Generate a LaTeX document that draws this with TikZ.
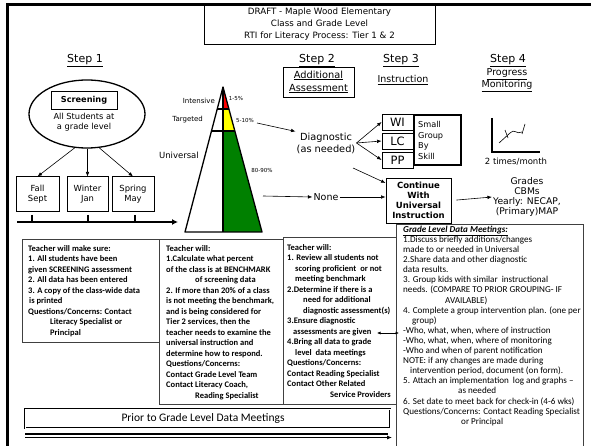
\documentclass[tikz,border=0pt]{standalone}
\usepackage{fontspec}
\setmainfont{DejaVu Sans}
\newfontfamily\calib{Carlito}
\usetikzlibrary{shapes.geometric,arrows.meta}
\newcommand\fs[2]{\fontsize{#1}{#2}\selectfont}
\definecolor{tierred}{RGB}{255,0,0}
\definecolor{tieryellow}{RGB}{255,255,0}
\definecolor{tiergreen}{RGB}{0,128,0}
\begin{document}
\begin{tikzpicture}[x=1pt,y=-1pt,
  arr/.style={-{Latex[length=4.5pt,width=3.6pt]}, line width=0.6pt},
  boxed/.style={draw, line width=0.9pt, inner sep=0},
  note/.style={draw=black!75, line width=0.6pt, fill=white, inner sep=0, anchor=north west},
  txtb/.style={font=\calib\bfseries\fs{8.5}{10.5}, align=left, inner sep=0, anchor=north west},
  txtr/.style={font=\calib\fs{9.1}{10.1}, align=left, inner sep=0, anchor=north west},
  steplabel/.style={font=\fs{11}{13}, inner sep=1pt}]
\useasboundingbox (0,0) rectangle (591,446);

% outer frame, running off the page to the right and bottom
\draw[line width=3pt] (7,452) -- (7,5) -- (597,5);

% heading
\node[boxed, minimum width=231, minimum height=40, align=center, font=\fs{8.7}{12}] (title) at (319.5,24.5)
  {DRAFT - Maple Wood Elementary\\Class and Grade Level\\RTI for Literacy Process: Tier 1 \& 2};

% step headings
\node[steplabel] (s1) at (85,61) {\underline{Step 1}};
\node[steplabel] (s2) at (317,61) {\underline{Step 2}};
\node[steplabel] (s3) at (401,61) {\underline{Step 3}};
\node[steplabel] (s4) at (508,61) {\underline{Step 4}};
\node[boxed, minimum width=71, minimum height=30, align=center, font=\fs{9.8}{13}] (s2box) at (318.5,82)
  {\underline{Additional}\\\underline{Assessment}};
\node[font=\fs{9.5}{12}] (s3t) at (403,80) {\underline{Instruction}};
\node[font=\fs{9.5}{12}, align=center] (s4t) at (507,80) {\underline{Progress}\\\underline{Monitoring}};

% step 1: screening
\node[ellipse, draw, line width=1.3pt, minimum width=116, minimum height=68, inner sep=0] (scr) at (87,114) {};
\node[draw, line width=0.6pt, minimum width=66, minimum height=18, inner sep=0, font=\bfseries\fs{8.2}{10}] (scrbox) at (84,100) {Screening};
\node[font=\fs{8.3}{10}, align=center, inner sep=0] (scrtxt) at (84,122) {All Students at\\a grade level};

\node[boxed, line width=1pt, minimum width=43, minimum height=35, align=center, font=\fs{8.4}{10}] (fall) at (37.5,194.5) {Fall\\Sept};
\node[boxed, line width=1pt, minimum width=41, minimum height=35, align=center, font=\fs{8.4}{10}] (winter) at (87.5,194.5) {Winter\\Jan};
\node[boxed, line width=1pt, minimum width=42, minimum height=35, align=center, font=\fs{8.4}{10}] (spring) at (133,194.5) {Spring\\May};

\draw[arr] (scr.250) -- (fall.north);
\draw[arr] (winter.north |- scr.south) -- (winter.north);
\draw[arr] (scr.290) -- (spring.north);

% time line with ticks
\coordinate (tl0) at (17,222);
\coordinate (tl1) at (178,222);
\draw[line width=2pt, -{Latex[length=6pt,width=6pt]}] (tl0) -- (tl1);
\foreach \tx in {32,88,135} \draw[line width=2pt] (\tx,215) -- (\tx,222);

% tier pyramid
\fill[tierred] (223,87) -- (228.9,109) -- (223,109) -- cycle;
\fill[tieryellow] (223,109) -- (228.9,109) -- (234.8,131) -- (223,131) -- cycle;
\fill[tiergreen] (223,131) -- (234.8,131) -- (262,232) -- (223,232) -- cycle;
\draw[line width=1.3pt, line join=round] (223,87) -- (262,232) -- (185,232) -- cycle;
\draw[line width=1.3pt] (223,87) -- (223,232);
\draw[line width=1.3pt] (217.2,109) -- (228.9,109);
\draw[line width=1.3pt] (211.5,131) -- (234.8,131);
\node[font=\fs{7}{8}, anchor=east, inner sep=0] (lint) at (215,101) {Intensive};
\node[font=\fs{7}{8}, anchor=east, inner sep=0] (ltar) at (203,120) {Targeted};
\node[font=\fs{8.5}{10}, anchor=east, inner sep=0] (luni) at (199,155) {Universal};
\node[font=\fs{5.5}{6}, inner sep=0] (p1) at (236,99) {1-5\%};
\node[font=\fs{5.5}{6}, inner sep=0] (p2) at (245,121) {5-10\%};
\node[font=\fs{5.5}{6}, inner sep=0] (p3) at (262,170) {80-90\%};

% step 2 outcomes
\node[align=center, font=\fs{9.8}{12}, inner sep=1pt] (diag) at (326,143) {Diagnostic\\(as needed)};
\node[font=\fs{9.5}{12}, inner sep=1pt] (none) at (326,197) {None};
\coordinate (py1) at (257,123);
\coordinate (py2) at (263,196);
\draw[arr] (py1) -- (diag.north west);
\draw[arr] (py2) -- (none.west);

% step 3: instruction
\node[boxed, minimum width=31, minimum height=16, font=\fs{11.5}{12}] (wi) at (397.5,122) {WI};
\node[boxed, minimum width=31, minimum height=16, font=\fs{11.5}{12}] (lc) at (397.5,141) {LC};
\node[boxed, minimum width=31, minimum height=16, font=\fs{11.5}{12}] (pp) at (397.5,160) {PP};
\node[draw, line width=1.6pt, minimum width=47, minimum height=50, inner sep=0] (sg) at (437.5,140) {};
\node[font=\fs{8.2}{10.7}, align=left, inner sep=0, anchor=north west] (sgt) at (418,121) {Small\\Group\\By\\Skill};
\draw[arr] (diag.east) -- (wi.west);
\draw[arr] (diag.east) -- (lc.west);
\draw[arr] (diag.east) -- (pp.west);

\node[boxed, minimum width=65, minimum height=45, align=center, font=\bfseries\fs{8.5}{9.8}] (cont) at (418.5,200.5)
  {Continue\\With\\Universal\\Instruction};
\coordinate (dg2) at (353,168);
\draw[arr] (dg2) -- (cont.152);
\draw[arr] (none.east) -- (none.east -| cont.west);

% step 4: progress monitoring
\draw[line width=2.2pt] (492,118) -- (492,152) -- (540,152);
\draw[line width=0.6pt] (499,143) -- (510,133);
\draw[line width=0.6pt] (505,130) -- (508,138);
\draw[line width=0.6pt] (510,133) .. controls (514,128) and (517,135) .. (522,132);
\draw[line width=0.6pt] (522,134) -- (525,124);
\node[font=\fs{8.5}{10}, inner sep=0] (twice) at (516,162) {2 times/month};

\node[align=center, font=\fs{9.2}{10}, inner sep=1pt] (grd) at (527,197) {Grades\\CBMs\\Yearly: NECAP,\\(Primary)MAP};
\draw[arr, shorten <=5pt] (cont.east) -- (grd.west);

% teacher task boxes
\node[note, minimum width=137, minimum height=103] (b1) at (22,239) {};
\node[txtb] (b1t) at (28,245.2) {Teacher will make sure:\\
1. All students have been\\
given SCREENING assessment\\
2. All data has been entered\\
3. A copy of the class-wide data\\
\hspace*{1pt}is printed\\
Questions/Concerns: Contact\\
\hspace*{22pt}Literacy Specialist or\\
\hspace*{22pt}Principal};

\node[note, minimum width=124, minimum height=165] (b2) at (159,239) {};
\node[txtb] (b2t) at (166,245.2) {Teacher will:\\
1.Calculate what percent\\
of the class is at BENCHMARK\\
\hspace*{29pt}of screening data\\
2. If more than 20\% of a class\\
is not meeting the benchmark,\\
and is being considered for\\
Tier 2 services, then the\\
teacher needs to examine the\\
universal instruction and\\
determine how to respond.\\
Questions/Concerns:\\
Contact Grade Level Team\\
Contact Literacy Coach,\\
\hspace*{29pt}Reading Specialist};

\node[note, minimum width=115, minimum height=167] (b3) at (283,237) {};
\node[txtb] (b3t) at (287,244.2) {Teacher will:\\
1. Review all students not\\
\hspace*{8pt}scoring proficient\ \ or not\\
\hspace*{8pt}meeting benchmark\\
2.Determine if there is a\\
\hspace*{16pt}need for additional\\
\hspace*{16pt}diagnostic assessment(s)\\
3.Ensure diagnostic\\
\hspace*{6pt}assessments are given\\
4.Bring all data to grade\\
\hspace*{8pt}level\ \ data meetings\\
Questions/Concerns:\\
Contact Reading Specialist\\
Contact Other Related\\
\hspace*{43pt}Service Providers};

\node[note, minimum width=187, minimum height=240] (b4) at (396,224) {};
\node[txtr] (b4t) at (403,225.8) {\textbf{\textit{\underline{Grade Level Data Meetings:}}}\\
1.Discuss briefly additions/changes\\
made to or needed in Universal\\
2.Share data and other diagnostic\\
data results.\\
3. Group kids with similar\ \ instructional\\
needs. (COMPARE TO PRIOR GROUPING- IF\\
\hspace*{42pt}AVAILABLE)\\
4. Complete a group intervention plan. (one per\\
\hspace*{9pt}group)\\
-Who, what, when, where of instruction\\
-Who, what, when, where of monitoring\\
-Who and when of parent notification\\
NOTE: if any changes are made during\\
\hspace*{7pt}intervention period, document (on form).\\
5. Attach an implementation\ \ log and graphs \textendash\\
\hspace*{55pt}as needed\\
6. Set date to meet back for check-in (4-6 wks)\\
Questions/Concerns: Contact Reading Specialist\\
\hspace*{58pt}or Principal};

\coordinate (lk3) at (377,333);
\coordinate (lk4) at (399,333);
\draw[{Latex[length=3.5pt,width=3pt]}-{Latex[length=3.5pt,width=3pt]}, line width=0.6pt] (lk3) -- (lk4);

% bottom banner and arrow
\node[draw, line width=0.9pt, double, double distance=0.8pt, minimum width=365, minimum height=19, inner sep=0] (prior) at (207.5,418.5) {};
\node[font=\calib\fs{11.5}{12}, inner sep=0] (priortxt) at (203,418.5) {Prior to Grade Level Data Meetings};
\coordinate (ar0) at (25,434);
\coordinate (ar1) at (388,434);
\coordinate (ar2) at (25,437.5);
\coordinate (ar3) at (392,437.5);
\draw[line width=1.3pt] (ar0) -- (ar1);
\draw[line width=0.8pt, -{Latex[length=5pt,width=4pt]}] (ar2) -- (ar3);
\end{tikzpicture}
\end{document}
